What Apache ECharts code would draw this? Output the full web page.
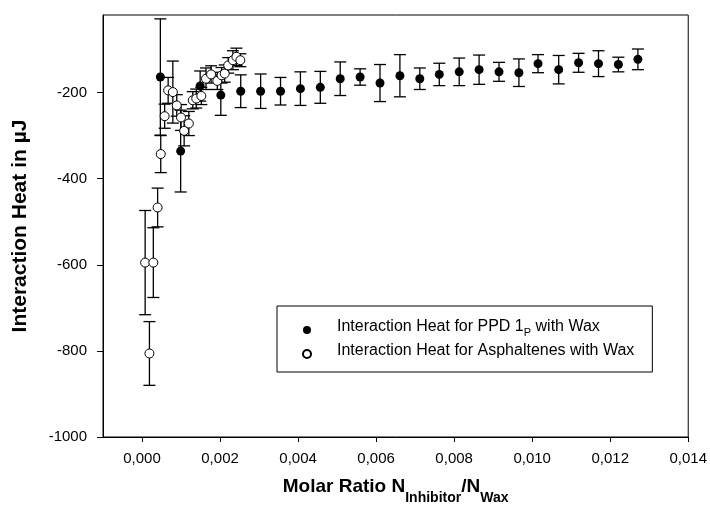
<!DOCTYPE html>
<html>
<head>
<meta charset="utf-8">
<script src="https://cdn.jsdelivr.net/npm/echarts@6/dist/echarts.min.js"></script>
<style>
  html, body { margin: 0; padding: 0; background: #fff; }
  #container { width: 710px; height: 510px; }
</style>
</head>
<body>
<div id="container"></div>
<script>
// PPD 1P with wax (filled circles)
var ppdX = [0.00047, 0.00099, 0.00149, 0.00202, 0.00253, 0.00304, 0.00355, 0.00406, 0.00457, 0.00508,
            0.00559, 0.00610, 0.00661, 0.00712, 0.00762, 0.00813, 0.00864, 0.00915, 0.00966, 0.01015,
            0.01068, 0.01119, 0.01170, 0.01221, 0.01271];
var ppdY = [-164, -336, -185, -206, -197, -197, -197, -191, -188, -168,
            -164, -178, -161, -168, -158, -152, -147, -152, -154, -133,
            -147, -131, -133, -135, -123];
var ppdErr = [135, 95, 35, 47, 38, 40, 32, 39, 37, 39,
              19, 43, 49, 25, 26, 32, 34, 22, 32, 21,
              33, 22, 30, 17, 24];

// Asphaltenes with wax (open circles)
var asphX = [0.00008, 0.00019, 0.00029, 0.00040, 0.00048, 0.00058, 0.00067, 0.00079, 0.00089, 0.00100,
             0.00108, 0.00120, 0.00130, 0.00139, 0.00152, 0.00164, 0.00177, 0.00193, 0.00204, 0.00212,
             0.00221, 0.00233, 0.00242, 0.00252];
var asphY = [-595, -806, -595, -467, -343, -255, -195, -199, -230, -258,
             -289, -272, -218, -214, -208, -168, -158, -173, -160, -156,
             -137, -125, -117, -125];
var asphErr = [121, 74, 81, 45, 43, 28, 30, 72, 25, 30,
               35, 28, 20, 22, 20, 25, 20, 20, 18, 20,
               18, 22, 20, 15];

var xTicks = [0, 0.002, 0.004, 0.006, 0.008, 0.010, 0.012, 0.014];
var yTicks = [-1000, -800, -600, -400, -200];

var nameA = 'Interaction Heat for PPD 1P with Wax';
var nameB = 'Interaction Heat for Asphaltenes with Wax';

function zip(xs, ys, es) {
    return xs.map(function (x, i) { return es ? [x, ys[i], es[i]] : [x, ys[i]]; });
}

function errorBar(params, api) {
    var x = api.value(0), y = api.value(1), e = api.value(2);
    var hi = api.coord([x, y + e]);
    var lo = api.coord([x, y - e]);
    var w = 6;
    var st = { stroke: '#000', lineWidth: 1.3 };
    return {
        type: 'group',
        children: [
            { type: 'line', shape: { x1: hi[0], y1: hi[1], x2: lo[0], y2: lo[1] }, style: st },
            { type: 'line', shape: { x1: hi[0] - w, y1: hi[1], x2: hi[0] + w, y2: hi[1] }, style: st },
            { type: 'line', shape: { x1: lo[0] - w, y1: lo[1], x2: lo[0] + w, y2: lo[1] }, style: st }
        ]
    };
}

var font = '"Liberation Sans", Arial, sans-serif';

var myChart = echarts.init(document.getElementById('container'));
var option = {
    animation: false,
    backgroundColor: '#fff',
    textStyle: { fontFamily: font },
    grid: {
        left: 103, right: 20, top: 15, bottom: 73,
        show: true, borderColor: '#000', borderWidth: 1, backgroundColor: 'transparent'
    },
    xAxis: {
        type: 'value',
        min: -0.001, max: 0.014,
        splitLine: { show: false },
        axisLine: { onZero: false, lineStyle: { color: '#000', width: 1 } },
        axisTick: { inside: false, length: 5, customValues: xTicks, lineStyle: { color: '#000' } },
        axisLabel: {
            customValues: xTicks, margin: 14, color: '#000', fontSize: 15, fontFamily: font,
            formatter: function (v) { return v.toFixed(3).replace('.', ','); }
        },
        name: '{m|Molar Ratio N}{s|Inhibitor}{m|/N}{s|Wax}',
        nameLocation: 'middle',
        nameGap: 49,
        nameTextStyle: {
            fontFamily: font,
            rich: {
                m: { fontSize: 19, fontWeight: 'bold', color: '#000', lineHeight: 19, verticalAlign: 'bottom', padding: [0, 0, 9, 0], fontFamily: font },
                s: { fontSize: 14, fontWeight: 'bold', color: '#000', lineHeight: 14, verticalAlign: 'bottom', fontFamily: font }
            }
        }
    },
    yAxis: {
        type: 'value',
        min: -1000, max: -20,
        splitLine: { show: false },
        axisLine: { onZero: false, lineStyle: { color: '#000', width: 1 } },
        axisTick: { inside: false, length: 6, customValues: yTicks, lineStyle: { color: '#000' } },
        axisLabel: {
            customValues: yTicks, margin: 16, color: '#000', fontSize: 15, fontFamily: font,
            formatter: function (v) { return String(v); }
        },
        name: 'Interaction Heat in µJ',
        nameLocation: 'middle',
        nameGap: 72,
        nameTextStyle: { fontSize: 21, fontWeight: 'bold', color: '#000', fontFamily: font }
    },
    legend: {
        data: [nameA, nameB],
        orient: 'vertical',
        left: 277, top: 306,
        padding: [13, 18, 10, 25],
        itemGap: 5,
        itemWidth: 8, itemHeight: 8,
        borderColor: '#000', borderWidth: 1, backgroundColor: '#fff',
        formatter: function (n) {
            if (n === nameA) return '{a|Interaction Heat for PPD 1}{s|P}{a| with Wax}';
            return '{a|Interaction Heat for Asphaltenes with Wax}';
        },
        textStyle: {
            padding: [0, 0, 0, 21],
            rich: {
                a: { fontSize: 16, color: '#000', lineHeight: 16, verticalAlign: 'bottom', padding: [0, 0, 3, 0], fontFamily: font },
                s: { fontSize: 11, color: '#000', lineHeight: 11, verticalAlign: 'bottom', fontFamily: font }
            }
        }
    },
    series: [
        {
            type: 'custom', name: 'errA', renderItem: errorBar,
            data: zip(ppdX, ppdY, ppdErr), encode: { x: 0, y: 1 }, z: 2
        },
        {
            type: 'scatter', name: nameA, data: zip(ppdX, ppdY),
            symbol: 'circle', symbolSize: 9,
            itemStyle: { color: '#000', opacity: 1 }, z: 3
        },
        {
            type: 'custom', name: 'errB', renderItem: errorBar,
            data: zip(asphX, asphY, asphErr), encode: { x: 0, y: 1 }, z: 4
        },
        {
            type: 'scatter', name: nameB, data: zip(asphX, asphY),
            symbol: 'circle', symbolSize: 9,
            itemStyle: { color: '#fff', borderColor: '#000', borderWidth: 1, opacity: 1 }, z: 5
        }
    ]
};
myChart.setOption(option);
</script>
</body>
</html>
